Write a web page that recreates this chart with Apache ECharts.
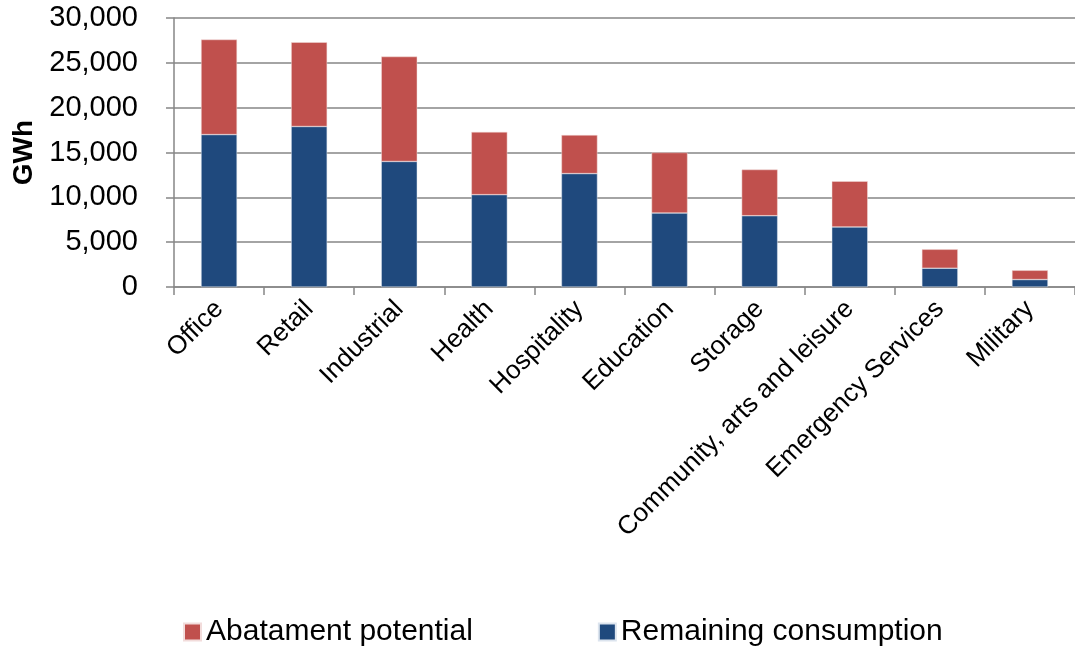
<!DOCTYPE html>
<html>
<head>
<meta charset="utf-8">
<script src="https://cdn.jsdelivr.net/npm/echarts@6/dist/echarts.min.js"></script>
<style>
  html, body { margin: 0; padding: 0; background: #fff; }
  #main { width: 1075px; height: 651px; }
</style>
</head>
<body>
<div id="main"></div>
<script>
// categories and values (GWh)
var sectors = ['Office', 'Retail', 'Industrial', 'Health', 'Hospitality', 'Education',
  'Storage', 'Community, arts and leisure', 'Emergency Services', 'Military'];
var remaining = [17000, 17900, 14000, 10300, 12650, 8250, 7950, 6700, 2100, 830];
var abatement = [10600, 9400, 11700, 7000, 4300, 6750, 5150, 5100, 2100, 1030];

var chart = echarts.init(document.getElementById('main'));

var font = 'Liberation Sans, Arial, sans-serif';

var option = {
  animation: false,
  textStyle: { fontFamily: font },
  grid: {
    left: 174,
    top: 18,
    width: 906,
    bottom: 364
  },
  legend: {
    data: ['Abatament potential', 'Remaining consumption'],
    left: 183,
    top: 617,
    padding: 0,
    itemWidth: 17,
    itemHeight: 17,
    itemGap: 125,
    icon: 'rect',
    textStyle: { fontSize: 30, color: '#000', fontFamily: font }
  },
  xAxis: {
    type: 'category',
    data: sectors,
    axisLine: { lineStyle: { color: '#868686', width: 1.5 } },
    axisTick: { show: true, length: 8, lineStyle: { color: '#868686', width: 1.5 } },
    axisLabel: {
      rotate: 45,
      fontSize: 26,
      color: '#000',
      margin: 18,
      interval: 0
    }
  },
  yAxis: {
    type: 'value',
    min: 0,
    max: 30000,
    interval: 5000,
    name: 'GWh',
    nameLocation: 'middle',
    nameGap: 134,
    nameTextStyle: { fontSize: 28, fontWeight: 'bold', color: '#000' },
    axisLine: { show: true, lineStyle: { color: '#868686', width: 1.5 } },
    axisTick: { show: true, length: 8, lineStyle: { color: '#868686', width: 1.5 } },
    splitLine: { lineStyle: { color: '#868686', width: 1.5 } },
    axisLabel: {
      fontSize: 29,
      color: '#000',
      margin: 36,
      formatter: function (v) { return v.toLocaleString('en-US'); }
    }
  },
  series: [{
    name: 'Remaining consumption',
    type: 'bar',
    stack: 'total',
    barWidth: 36,
    data: remaining,
    itemStyle: { color: '#1F497D', borderColor: '#dce4ee', borderWidth: 0.5 }
  }, {
    name: 'Abatament potential',
    type: 'bar',
    stack: 'total',
    barWidth: 36,
    data: abatement,
    itemStyle: { color: '#C0504D', borderColor: '#f2dcdb', borderWidth: 0.5 }
  }]
};

chart.setOption(option);
</script>
</body>
</html>
